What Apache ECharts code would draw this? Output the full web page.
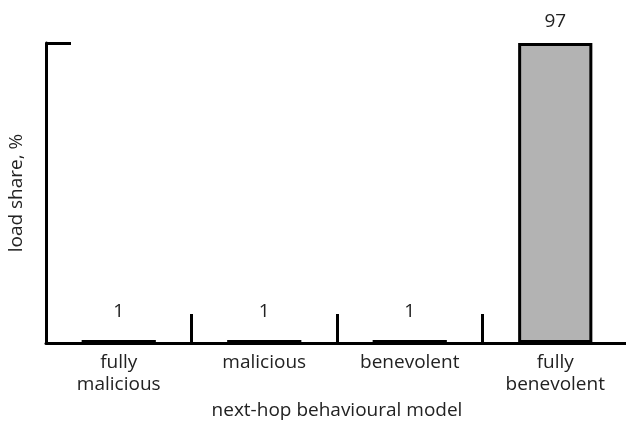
<!DOCTYPE html>
<html><head><meta charset="utf-8">
<script src="https://cdn.jsdelivr.net/npm/echarts@6/dist/echarts.min.js"></script>
<style>html,body{margin:0;padding:0;background:#fff}#c{width:626px;height:423px}</style>
</head><body><div id="c"></div>
<script>
var categories = ["fully\nmalicious", "malicious", "benevolent", "fully\nbenevolent"];
var loadShare = [1, 1, 1, 97];
var xAxisName = "next-hop behavioural model";
var yAxisName = "load share, %";

var font = "Open Sans";
var fs = 19;
var chart = echarts.init(document.getElementById('c'), null, {renderer: 'canvas'});
chart.setOption({
  animation: false,
  textStyle: {fontFamily: font},
  grid: {left: 46, right: -2, top: 43, bottom: 80, containLabel: false, outerBoundsMode: 'none'},
  xAxis: {
    type: 'category',
    data: categories,
    name: xAxisName,
    nameLocation: 'middle',
    nameGap: 56,
    nameTextStyle: {fontSize: fs, color: '#222', fontFamily: font},
    axisLine: {lineStyle: {color: '#000', width: 3}},
    axisTick: {show: true, inside: true, length: 29, lineStyle: {color: '#000', width: 3}},
    axisLabel: {fontSize: fs, color: '#222', margin: 9, lineHeight: 22, fontFamily: font},
    splitLine: {show: false}
  },
  yAxis: {
    type: 'value',
    min: 0, max: 97, interval: 97,
    name: yAxisName,
    nameLocation: 'middle',
    nameGap: 20,
    nameRotate: 90,
    nameTextStyle: {fontSize: fs, color: '#222', fontFamily: font},
    axisLine: {show: true, lineStyle: {color: '#000', width: 3}},
    axisTick: {show: true, inside: true, length: 25, lineStyle: {color: '#000', width: 3}},
    axisLabel: {show: false},
    splitLine: {show: false}
  },
  series: [{
    type: 'bar',
    data: loadShare.map(function (v) {
      return {value: v, label: {distance: v < 5 ? 19 : 12}};
    }),
    barWidth: '51%',
    itemStyle: {color: '#b3b3b3', borderColor: '#000', borderWidth: 3},
    label: {show: true, position: 'top', fontSize: fs, color: '#222', fontFamily: font}
  }]
});
</script></body></html>
